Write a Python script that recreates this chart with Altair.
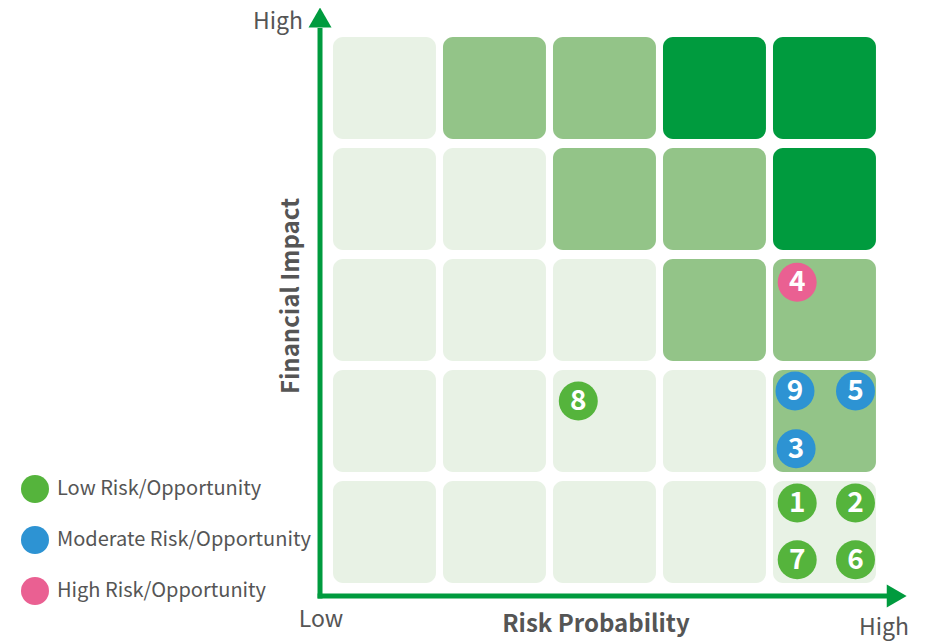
import altair as alt
import pandas as pd

# ---- data ----
prob_levels = [0, 1, 2, 3, 4]          # Risk Probability (low -> high)
impact_levels = [0, 1, 2, 3, 4]        # Financial Impact (low -> high)
# shade of each cell, rows listed from high impact (top) to low impact (bottom)
shade_rows = [
    ["light", "medium", "medium", "dark", "dark"],
    ["light", "light", "medium", "medium", "dark"],
    ["light", "light", "light", "medium", "medium"],
    ["light", "light", "light", "light", "medium"],
    ["light", "light", "light", "light", "light"],
]
risk_ids = ["1", "2", "3", "4", "5", "6", "7", "8", "9"]
risk_prob = [4.22, 4.75, 4.21, 4.22, 4.75, 4.75, 4.22, 2.23, 4.20]
risk_impact = [0.72, 0.72, 1.21, 2.71, 1.73, 0.21, 0.21, 1.64, 1.73]
risk_cat = ["Low Risk/Opportunity", "Low Risk/Opportunity", "Moderate Risk/Opportunity",
            "High Risk/Opportunity", "Moderate Risk/Opportunity", "Low Risk/Opportunity",
            "Low Risk/Opportunity", "Low Risk/Opportunity", "Moderate Risk/Opportunity"]
cat_order = ["Low Risk/Opportunity", "Moderate Risk/Opportunity", "High Risk/Opportunity"]
cat_colors = ["#55b43c", "#2d93d3", "#ea6092"]
shade_names = ["light", "medium", "dark"]
shade_colors = ["#e8f2e5", "#93c488", "#009b3e"]

FONT = "Noto Sans CJK JP"
TXT = "#555555"
GREEN = "#009b3e"
CW, CH = 0.936, 0.919  # cell extent in level units

cells = []
for r, row in enumerate(shade_rows):
    imp = impact_levels[len(shade_rows) - 1 - r]
    for c, shade in enumerate(row):
        p = prob_levels[c]
        cells.append({"p": p, "p2": p + CW, "i": imp, "i2": imp + CH, "shade": shade})
cells = pd.DataFrame(cells)

pts = pd.DataFrame({"id": risk_ids, "p": risk_prob, "i": risk_impact, "cat": risk_cat})

xs = alt.Scale(domain=[-2.9545, 5.3364], nice=False, zero=False)
ys = alt.Scale(domain=[-0.5315, 5.1802], nice=False, zero=False)

base = alt.Chart(cells)
rects = base.mark_rect(cornerRadius=10).encode(
    x=alt.X("p:Q", scale=xs, axis=None),
    x2="p2:Q",
    y=alt.Y("i:Q", scale=ys, axis=None),
    y2="i2:Q",
    color=alt.Color("shade:N", scale=alt.Scale(domain=shade_names, range=shade_colors), legend=None),
)

# axis arrows
lines = pd.DataFrame({
    "x": [-0.118, -0.14], "y": [-0.14, -0.117],
    "x2": [-0.118, 5.05], "y2": [5.0, -0.117],
})
arrow_lines = alt.Chart(lines).mark_rule(strokeWidth=5, color=GREEN).encode(
    x=alt.X("x:Q", scale=xs), y=alt.Y("y:Q", scale=ys), x2="x2:Q", y2="y2:Q"
)
heads = pd.DataFrame({"x": [-0.118, 5.1245], "y": [5.095, -0.117],
                      "shape": ["triangle-up", "triangle-right"]})
arrow_heads = alt.Chart(heads).mark_point(filled=True, opacity=1, color=GREEN, size=529, strokeWidth=0).encode(
    x=alt.X("x:Q", scale=xs), y=alt.Y("y:Q", scale=ys),
    shape=alt.Shape("shape:N", scale=None),
)

# axis labels
lab = pd.DataFrame({
    "t": ["High", "Low", "High"],
    "x": [-0.273, -0.109, 5.009], "y": [5.05, -0.333, -0.405],
})
lab_right = alt.Chart(lab.iloc[[0]]).mark_text(font=FONT, fontSize=23, color=TXT, align="right", baseline="middle").encode(
    x=alt.X("x:Q", scale=xs), y=alt.Y("y:Q", scale=ys), text="t:N")
lab_center = alt.Chart(lab.iloc[[1, 2]]).mark_text(font=FONT, fontSize=23, color=TXT, align="center", baseline="middle").encode(
    x=alt.X("x:Q", scale=xs), y=alt.Y("y:Q", scale=ys), text="t:N")
xtitle = alt.Chart(pd.DataFrame({"t": ["Risk Probability"], "x": [2.391], "y": [-0.378]})).mark_text(
    font=FONT, fontSize=24, fontWeight="bold", color=TXT, align="center", baseline="middle").encode(
    x=alt.X("x:Q", scale=xs), y=alt.Y("y:Q", scale=ys), text="t:N")
ytitle = alt.Chart(pd.DataFrame({"t": ["Financial Impact"], "x": [-0.373], "y": [2.586]})).mark_text(
    font=FONT, fontSize=24, fontWeight="bold", color=TXT, align="center", baseline="middle", angle=270).encode(
    x=alt.X("x:Q", scale=xs), y=alt.Y("y:Q", scale=ys), text="t:N")

circles = alt.Chart(pts).mark_circle(size=1521, opacity=1).encode(
    x=alt.X("p:Q", scale=xs), y=alt.Y("i:Q", scale=ys),
    color=alt.Color("cat:N", scale=alt.Scale(domain=cat_order, range=cat_colors),
                    legend=alt.Legend(title=None, orient="none", legendX=13, legendY=467,
                                      symbolSize=784, symbolType="circle", labelFont=FONT,
                                      labelFontSize=20, labelColor=TXT, rowPadding=23,
                                      labelOffset=8, labelLimit=0, symbolStrokeWidth=0,
                                      padding=0)),
)
nums = alt.Chart(pts).mark_text(font=FONT, fontSize=28, fontWeight="bold", color="white",
                                baseline="middle", dy=1).encode(
    x=alt.X("p:Q", scale=xs), y=alt.Y("i:Q", scale=ys), text="id:N")

chart = alt.layer(rects, arrow_lines, arrow_heads, lab_right, lab_center, xtitle, ytitle,
                  circles, nums).resolve_scale(color="independent").properties(
    width=912, height=634, padding=0, autosize=alt.AutoSizeParams(type="none")
).configure_view(stroke=None)

chart.save("out.html", embed_options={"renderer": "svg", "actions": False})
